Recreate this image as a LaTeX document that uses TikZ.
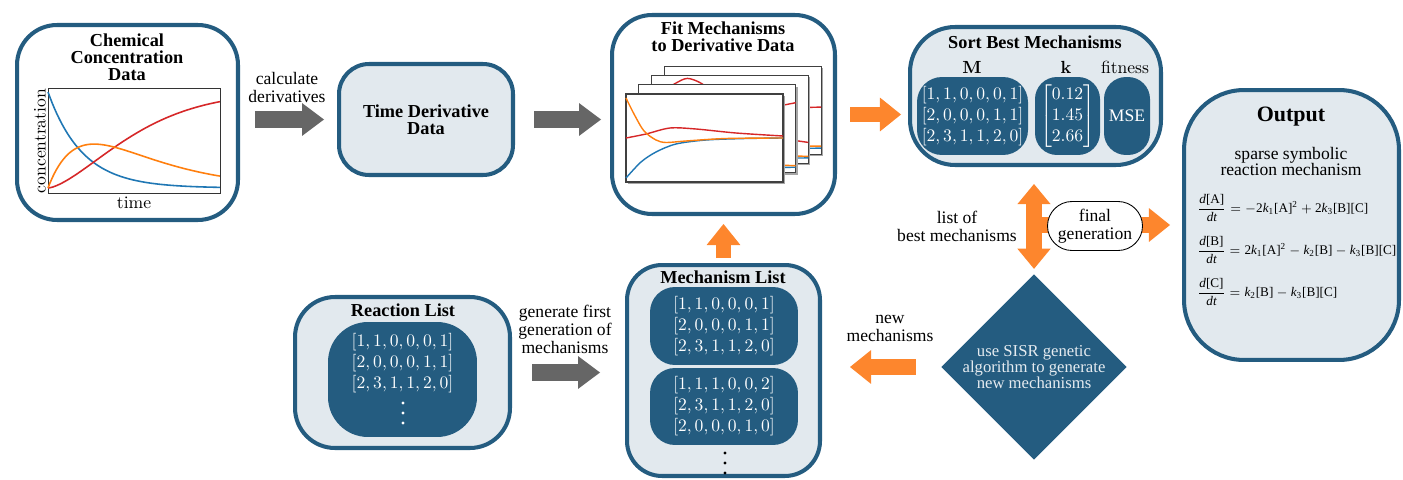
\documentclass[tikz,border=0pt]{standalone}
\usepackage{amsmath}
\usepackage[no-math]{fontspec}
\setmainfont{Liberation Serif}
\usepackage{tikz}
\usetikzlibrary{arrows.meta, shapes.geometric, shapes.misc}

\definecolor{boxblue}{RGB}{36,92,128}
\definecolor{boxfill}{RGB}{226,233,238}
\definecolor{flowgray}{RGB}{102,102,102}
\definecolor{floworange}{RGB}{253,134,45}
\definecolor{lineblue}{RGB}{31,119,180}
\definecolor{lineorange}{RGB}{255,127,14}
\definecolor{linered}{RGB}{214,39,40}

\newcommand{\cmfont}{\fontfamily{lmr}\selectfont}
\newcommand{\conc}[1]{\textrm{[#1]}}
\newcommand{\rate}[1]{\textit{k}_{\textrm{#1}}}
\newcommand{\deriv}[1]{\dfrac{\textit{d}\conc{#1}}{\textit{dt}}}

\tikzset{
    box_style/.style={
        draw=boxblue,            % outer frame
        line width=2.3pt,
        rounded corners=0.8cm,
        inner sep=0pt
    },
    dark_style/.style={
        fill=boxblue,
        text=white,
        rounded corners=0.5cm,
        inner sep=0pt
    },
    title_style/.style={
        font=\fontsize{10.4}{9.6}\selectfont\bfseries,
        align=center,
        inner sep=0pt
    },
    label_style/.style={
        font=\fontsize{10}{10.2}\selectfont,
        align=center,
        inner sep=0pt
    },
    eq_style/.style={
        anchor=west,
        inner sep=0pt,
        font=\fontsize{7.5}{9}\selectfont
    },
    final_style/.style={
        rounded rectangle,
        draw=black,
        line width=0.5pt,
        fill=white,
        minimum width=1.9cm,
        minimum height=0.98cm,
        inner sep=0pt,
        align=center,
        font=\fontsize{10}{10.2}\selectfont
    },
    frame_style/.style={draw=black!75, fill=white, line width=0.6pt},
    gray_arrow/.style={
        flowgray, line width=9.6pt,
        -{Triangle[length=12.5pt, width=18.7pt, line width=0pt]}
    },
    orange_arrow/.style={
        floworange, line width=9pt,
        -{Triangle[length=12pt, width=19.3pt, line width=0pt]}
    },
    orange_double/.style={
        floworange, line width=9.6pt,
        {Triangle[length=11.5pt, width=19pt, line width=0pt]}-{Triangle[length=11.5pt, width=19pt, line width=0pt]}
    }
}

% one fitted plot of the stack: #1 = depth, #2 red, #3 orange, #4 blue
\newcommand{\fitframe}[4]{
    \begin{scope}[shift={(626+12.7*#1, 94-9.3*#1)}]
        \fill[black!35] (2,2) rectangle (159,90);
        \draw[frame_style] (0,0) rectangle (157,88);
        \draw[linered, line width=0.8pt] plot[smooth] coordinates {#2};
        \draw[lineblue, line width=0.8pt] plot[smooth] coordinates {#4};
        \draw[lineorange, line width=0.8pt] plot[smooth] coordinates {#3};
    \end{scope}
}

\begin{document}
\begin{tikzpicture}[x=0.02cm, y=-0.02cm]
    \useasboundingbox (0,0) rectangle (1403,480);

    % 1. big boxes
    \node[box_style, fill=white, minimum width=4.42cm, minimum height=3.9cm] (chem) at (127.5,122.5) {};
    \node[box_style, fill=boxfill, rounded corners=0.6cm, minimum width=3.48cm, minimum height=2.22cm,
          font=\fontsize{10.4}{9.6}\selectfont\bfseries, align=center] (tderiv) at (426,119.5) {Time Derivative\\Data};
    \node[box_style, fill=white, minimum width=4.46cm, minimum height=3.98cm] (fit) at (723.5,114.5) {};
    \node[box_style, fill=boxfill, rounded corners=0.9cm, minimum width=5.02cm, minimum height=2.76cm] (sort) at (1035.5,96) {};
    \node[box_style, fill=boxfill, rounded corners=1.2cm, minimum width=4.3cm, minimum height=5.4cm] (output) at (1291.5,225) {};
    \node[box_style, fill=boxfill, rounded corners=0.7cm, minimum width=3.86cm, minimum height=4.22cm] (mech) at (723.5,370.5) {};
    \node[box_style, fill=boxfill, minimum width=4.3cm, minimum height=3.02cm] (react) at (402.5,372.5) {};

    % 2. titles
    \node[title_style] (chemtitle) at (127,57.5) {Chemical\\Concentration\\Data};
    \node[title_style] (fittitle) at (723,37) {Fit Mechanisms\\to Derivative Data};
    \node[title_style] (sorttitle) at (1035,42) {Sort Best Mechanisms};
    \node[title_style, font=\fontsize{12.5}{14}\selectfont\bfseries] (outtitle) at (1291,117) {Output};
    \node[title_style] (mechtitle) at (723,277) {Mechanism List};
    \node[title_style] (reacttitle) at (403,310) {Reaction List};

    % 3. concentration plot
    \draw[black!80, line width=0.5pt] (48,88) rectangle (220,193);
    \begin{scope}[shift={(48,188)}, x=3.44cm, y=1.92cm, line width=0.9pt, domain=0:1, samples=80]
        \draw[lineblue] plot (\x, {exp(-5*\x)});
        \draw[linered] plot (\x, {1-exp(-2.3*\x*sqrt(\x))});
        \draw[lineorange] plot (\x, {2.05*(exp(-2.7*\x)-exp(-5*\x))});
    \end{scope}
    \node[font=\cmfont, rotate=90] (ylab) at (40,141) {concentration};
    \node[font=\cmfont] (xlab) at (134,203) {time};

    % 4. stack of fitted plots
    \fitframe{3}{(0,60) (40,50) (80,44) (120,42) (157,41)}
                {(0,15) (20,50) (50,72) (100,79) (157,80)}
                {(0,86) (40,84) (100,83) (157,82)}
    \fitframe{2}{(0,30) (12,16) (24,8) (36,3) (50,8) (65,20) (90,42) (120,60) (157,67)}
                {(0,20) (25,55) (60,75) (157,81)}
                {(0,87) (60,84) (157,82.5)}
    \fitframe{1}{(0,55) (50,45) (100,30) (157,18)}
                {(0,12) (25,50) (60,74) (157,81)}
                {(0,87) (60,84.5) (157,82.5)}
    \fitframe{0}{(0,44) (20,40) (44,34) (70,35) (110,39) (157,42)}
                {(0,4) (8,20) (18,37) (30,46) (40,48.5) (60,47) (100,44.5) (157,44)}
                {(0,84) (15,68) (30,58) (50,50) (80,46) (120,44.5) (157,44)}

    % 5. sorted mechanisms
    \node[font=\cmfont] (mlab) at (972,67) {$\mathbf{M}$};
    \node (klab) at (1066,67) {$\mathbf{k}$};
    \node[font=\cmfont] (fitlab) at (1125,67) {fitness};
    \node[dark_style, align=center, minimum width=2.22cm, minimum height=1.56cm] (mrows) at (972.5,116)
        {$[1,1,0,0,0,1]$\\$[2,0,0,0,1,1]$\\$[2,3,1,1,2,0]$};
    \node[dark_style, rounded corners=0.44cm, minimum width=1.3cm, minimum height=1.56cm] (kvec) at (1067.5,116)
        {$\begin{bmatrix}0.12\\1.45\\2.66\end{bmatrix}$};
    \node[dark_style, rounded corners=0.44cm, minimum width=0.92cm, minimum height=1.56cm] (mse) at (1127,116) {MSE};

    % 6. output
    \node[label_style, font=\fontsize{10}{9.6}\selectfont] (outsub) at (1291,161.5) {sparse symbolic\\reaction mechanism};
    \node[eq_style] (eqA) at (1197,208)
        {$\deriv{A} = -\textrm{2}\rate{1}\conc{A}^{\textrm{2}} + \textrm{2}\rate{3}\conc{B}\conc{C}$};
    \node[eq_style] (eqB) at (1197,250)
        {$\deriv{B} = \textrm{2}\rate{1}\conc{A}^{\textrm{2}} - \rate{2}\conc{B} - \rate{3}\conc{B}\conc{C}$};
    \node[eq_style] (eqC) at (1197,292)
        {$\deriv{C} = \rate{2}\conc{B} - \rate{3}\conc{B}\conc{C}$};

    % 7. mechanism and reaction lists
    \node[dark_style, align=center, minimum width=2.96cm, minimum height=1.56cm] (mech1) at (724,326)
        {$[1,1,0,0,0,1]$\\$[2,0,0,0,1,1]$\\$[2,3,1,1,2,0]$};
    \node[dark_style, align=center, minimum width=2.96cm, minimum height=1.54cm] (mech2) at (724,406.5)
        {$[1,1,1,0,0,2]$\\$[2,3,1,1,2,0]$\\$[2,0,0,0,1,0]$};
    \foreach \i in {0,1,2}
        \fill (725,453+10*\i) circle (1.7);
    \node[dark_style, rounded corners=0.8cm, minimum width=2.98cm, minimum height=2.3cm] (rbox) at (402.5,379.5) {};
    \node[text=white, align=center, inner sep=0pt] (rrows) at (402.5,363.5)
        {$[1,1,0,0,0,1]$\\$[2,0,0,0,1,1]$\\$[2,3,1,1,2,0]$};
    \foreach \i in {0,1,2}
        \fill[white] (403,403+10*\i) circle (1.7);

    % 8. genetic step
    \node[diamond, fill=boxblue, text=white!88!boxblue, minimum width=3.56cm, minimum height=3.58cm,
          inner sep=0pt, align=center, font=\fontsize{9.5}{9}\selectfont] (algo) at (1034,367)
        {use SISR genetic\\algorithm to generate\\new mechanisms};

    % 9. arrows and their labels
    \draw[gray_arrow, shorten <=0.3cm, shorten >=0.26cm] (tderiv.west -| chem.east) -- (tderiv.west);
    \node[label_style] (calclab) at (287,87.5) {calculate\\derivatives};
    \draw[gray_arrow, shorten <=0.38cm, shorten >=0.18cm] (tderiv.east) -- (tderiv.east -| fit.west);
    \draw[orange_arrow, shorten <=0.26cm, shorten >=0.14cm] (fit.east) -- (fit.east -| sort.west);
    \draw[orange_arrow, shorten <=0.1cm, shorten >=0.16cm] (mech.north) -- (fit.south);
    \draw[gray_arrow, shorten <=0.4cm, shorten >=0.5cm] (react.east) -- (react.east -| mech.west);
    \node[label_style] (genlab) at (565,329) {generate first\\generation of\\mechanisms};
    \draw[orange_double, shorten <=0.34cm, shorten >=0.1cm] (algo.north |- sort.south) -- (algo.north);
    \coordinate (split) at (algo.north |- output.west);
    \draw[orange_arrow, shorten >=0.24cm] (split) -- (output.west);
    \node[final_style] (finalgen) at (1095,226) {final\\generation};
    \node[label_style] (bestlab) at (957,226.5) {list of\\best mechanisms};
    \draw[orange_arrow, shorten <=0.5cm, shorten >=0.56cm] (algo.west) -- (algo.west -| mech.east);
    \node[label_style] (newlab) at (890,328.5) {new\\mechanisms};
\end{tikzpicture}
\end{document}
